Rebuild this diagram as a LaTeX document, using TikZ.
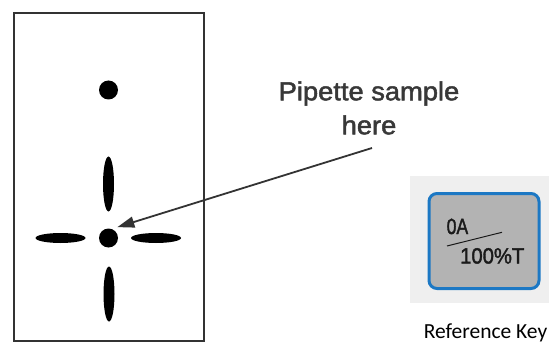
\documentclass[tikz,border=0pt]{standalone}
\usepackage{fontspec}
\setmainfont{Liberation Sans}
\newfontfamily\heavyfont[FakeBold=1.8]{Liberation Sans}
\newfontfamily\keyfont{Carlito}
\usetikzlibrary{shapes.geometric,arrows.meta}
\definecolor{frame}{HTML}{333333}
\definecolor{keybg}{HTML}{EFEFEF}
\definecolor{keybox}{HTML}{B3B3B3}
\definecolor{keyblue}{HTML}{1C78C4}
\definecolor{txt}{HTML}{383838}
\definecolor{keytxt}{HTML}{1A1A1A}
\tikzset{
  spot/.style={circle,fill=black,inner sep=0pt,minimum size=19pt},
  vblob/.style={ellipse,fill=black,inner sep=0pt,minimum width=11pt,minimum height=55pt},
  hblob/.style={ellipse,fill=black,inner sep=0pt,minimum width=50pt,minimum height=10pt},
  pointer/.style={draw=frame,line width=1.8pt,-{Triangle[length=17pt,width=11pt]}},
  keytext/.style={anchor=base west,text=keytxt,font=\heavyfont\fontsize{22}{24}\selectfont,inner sep=0pt},
}
\begin{document}
\begin{tikzpicture}[x=1pt,y=-1pt]
\useasboundingbox (0,0) rectangle (549,342);
% plate
\node[draw=frame,line width=2pt,minimum width=190pt,minimum height=328pt,inner sep=0pt] (plate) at (109,177) {};
\node[spot] (tdot) at (108.5,90) {};
\node[vblob] (up) at (108.5,184) {};
\node[spot] (cdot) at (108.5,238) {};
\node[hblob] (left) at (60.5,238) {};
\node[hblob] (right) at (156,238) {};
\node[vblob] (down) at (109,294) {};
% label
\node[text=txt,font=\heavyfont\fontsize{26}{34}\selectfont,align=center,inner sep=0pt,xscale=1.05] (lbl) at (369,108) {Pipette sample\\here};
\coordinate (src) at (372,148);
\draw[pointer] (src) -- ([shift={(2,-4)}]cdot.north east);
% reference key
\node[fill=keybg,minimum width=139pt,minimum height=127pt,inner sep=0pt] (keybg) at (479.5,239.5) {};
\node[draw=keyblue,fill=keybox,line width=3pt,rounded corners=8pt,minimum width=110pt,minimum height=95pt,inner sep=0pt] (key) at (484,241) {};
\node[keytext,xscale=0.8] (oa) at (446.5,234) {0A};
\node[keytext,xscale=0.92] (pt) at (460,263.5) {100\%T};
\coordinate (la) at (447,246);
\coordinate (lb) at (502,232.3);
\draw[keytxt,line width=1pt] (la) -- (lb);
\node[anchor=base,font=\keyfont\fontsize{21.5}{24}\selectfont,inner sep=0pt] (keylbl) at (485.5,338) {Reference Key};
\end{tikzpicture}
\end{document}
